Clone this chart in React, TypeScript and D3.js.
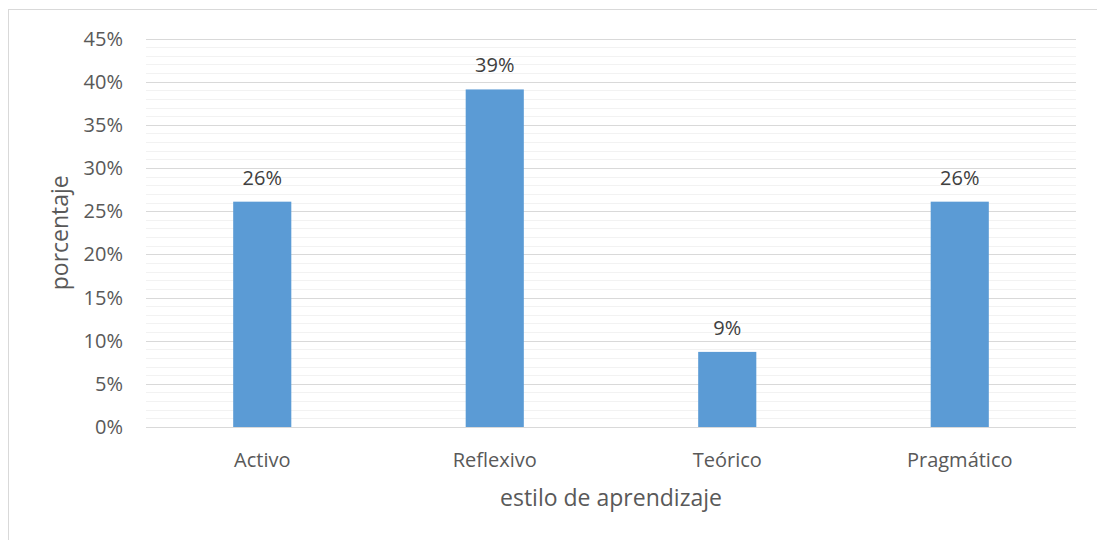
import React from 'react'
import * as d3 from 'd3'

const CATEGORIES = ['Activo', 'Reflexivo', 'Teórico', 'Pragmático']
const VALUES = [0.261, 0.391, 0.087, 0.261]
const Y_TICKS = [0, 0.05, 0.1, 0.15, 0.2, 0.25, 0.3, 0.35, 0.4, 0.45]
const MINOR_TICKS = d3.range(0, 46).map((d) => d / 100)

const BAR_COLOR = '#5B9BD5'
const TEXT_COLOR = '#595959'
const FONT = '"Open Sans", "Segoe UI", sans-serif'

const App = () => {
  const width = 1097
  const height = 540
  const left = 146
  const right = 1076
  const top = 38.5
  const bottom = 427

  const x = d3.scaleBand().domain(CATEGORIES).range([left, right]).paddingInner(0.75).paddingOuter(0.375)
  const y = d3.scaleLinear().domain([0, 0.45]).range([bottom, top])
  const pct = d3.format('.0%')

  return (
    <svg
      width={width}
      height={height}
      style={{ position: 'absolute', left: 0, top: 0, background: '#fff' }}
      fontFamily={FONT}
    >
      <rect x={8.5} y={9.5} width={width} height={height} fill="#fff" stroke="#D9D9D9" />
      <g>
        {MINOR_TICKS.map((t) => (
          <line key={'m' + t} x1={left} x2={right} y1={Math.round(y(t)) + 0.5} y2={Math.round(y(t)) + 0.5} stroke="#F2F2F2" />
        ))}
        {Y_TICKS.map((t) => (
          <line key={'g' + t} x1={left} x2={right} y1={Math.round(y(t)) + 0.5} y2={Math.round(y(t)) + 0.5} stroke="#D9D9D9" />
        ))}
      </g>
      <g>
        {Y_TICKS.map((t) => (
          <text key={'t' + t} x={123} y={y(t)} dy="0.35em" textAnchor="end" fontSize={20} fill={TEXT_COLOR}>
            {pct(t)}
          </text>
        ))}
      </g>
      <g>
        {CATEGORIES.map((c, i) => (
          <g key={c}>
            <rect x={x(c)} y={y(VALUES[i])} width={x.bandwidth()} height={bottom - y(VALUES[i])} fill={BAR_COLOR} />
            <text x={x(c)! + x.bandwidth() / 2} y={y(VALUES[i]) - 17} textAnchor="middle" fontSize={20} fill="#404040">
              {pct(VALUES[i])}
            </text>
            <text x={x(c)! + x.bandwidth() / 2} y={460} dy="0.35em" textAnchor="middle" fontSize={20} fill={TEXT_COLOR}>
              {c}
            </text>
          </g>
        ))}
      </g>
      <text x={(left + right) / 2} y={498} dy="0.35em" textAnchor="middle" fontSize={23} fill={TEXT_COLOR}>
        estilo de aprendizaje
      </text>
      <text
        transform={`translate(60,${(top + bottom) / 2}) rotate(-90)`}
        dy="0.35em"
        textAnchor="middle"
        fontSize={23}
        fill={TEXT_COLOR}
      >
        porcentaje
      </text>
    </svg>
  )
}

export default App
